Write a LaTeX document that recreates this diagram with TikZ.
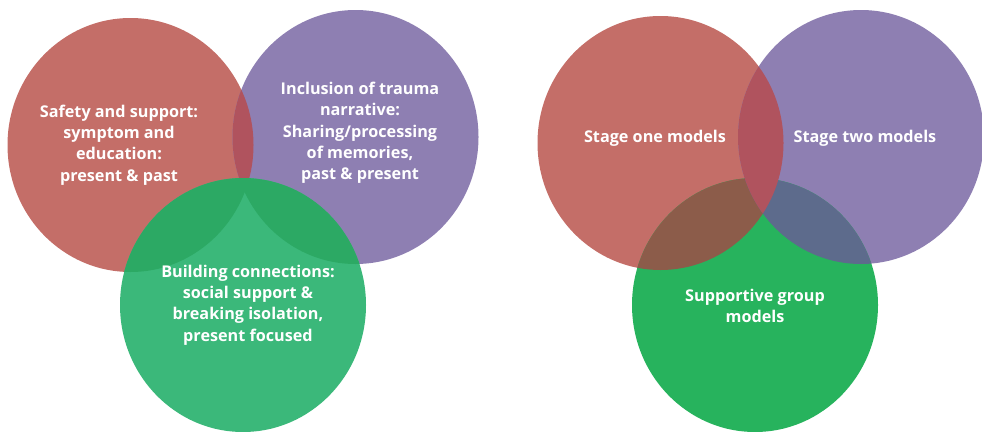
\documentclass[tikz,border=0pt]{standalone}
\usepackage{fontspec}
\setmainfont{Open Sans}
\definecolor{vred}{HTML}{C46E68}
\definecolor{vpurple}{HTML}{8E7FB2}
\definecolor{vgreenl}{HTML}{3BB87A}
\definecolor{vgreenr}{HTML}{27B35D}
\definecolor{vredpurple}{HTML}{B0535E}
\definecolor{vgreenover}{HTML}{2CA964}
\definecolor{vredgreen}{HTML}{8C5C4A}
\definecolor{vpurplegreen}{HTML}{5D6B8C}
\tikzset{venntext/.style={text=white,align=center,
  font=\bfseries\fontsize{16.2}{21.3}\selectfont}}

\begin{document}
\begin{tikzpicture}[x=1pt,y=-1pt]
  \useasboundingbox (0,0) rectangle (982,431);

  \def\rx{123}
  \def\ry{127}
  % left diagram
  \coordinate (lr) at (130.5,145);
  \coordinate (lp) at (355.5,137);
  \coordinate (lg) at (243,305);
  % right diagram
  \coordinate (rr) at (660.5,143);
  \coordinate (rp) at (861,137);
  \coordinate (rg) at (755,305);

  \fill [vred]    (lr) ellipse [x radius=\rx, y radius=\ry];
  \fill [vpurple] (lp) ellipse [x radius=\rx, y radius=\ry];
  \begin{scope}
    \clip (lr) ellipse [x radius=\rx, y radius=\ry];
    \fill [vredpurple] (lp) ellipse [x radius=\rx, y radius=\ry];
  \end{scope}
  \fill [vgreenl] (lg) ellipse [x radius=\rx, y radius=\ry];
  \begin{scope}
    \clip (lg) ellipse [x radius=\rx, y radius=\ry];
    \fill [vgreenover] (lr) ellipse [x radius=\rx, y radius=\ry];
    \fill [vgreenover] (lp) ellipse [x radius=\rx, y radius=\ry];
  \end{scope}

  \fill [vred]    (rr) ellipse [x radius=\rx, y radius=\ry];
  \fill [vpurple] (rp) ellipse [x radius=\rx, y radius=\ry];
  \fill [vgreenr] (rg) ellipse [x radius=\rx, y radius=\ry];
  \begin{scope}
    \clip (rg) ellipse [x radius=\rx, y radius=\ry];
    \fill [vredgreen]    (rr) ellipse [x radius=\rx, y radius=\ry];
    \fill [vpurplegreen] (rp) ellipse [x radius=\rx, y radius=\ry];
  \end{scope}
  \begin{scope}
    \clip (rr) ellipse [x radius=\rx, y radius=\ry];
    \fill [vredpurple] (rp) ellipse [x radius=\rx, y radius=\ry];
  \end{scope}

  \node [venntext] (safety)  at (119,145)
    {Safety and support:\\symptom and\\education:\\present \& past};
  \node [venntext] (trauma)  at (360,133)
    {Inclusion of trauma\\narrative:\\Sharing/processing\\of memories,\\past \& present};
  \node [venntext] (connect) at (248,305)
    {Building connections:\\social support \&\\breaking isolation,\\present focused};
  \node [venntext] (stageone)   at (655,138) {Stage one models};
  \node [venntext] (stagetwo)   at (865,138) {Stage two models};
  \node [venntext] (supportive) at (755,306) {Supportive group\\models};
\end{tikzpicture}
\end{document}
